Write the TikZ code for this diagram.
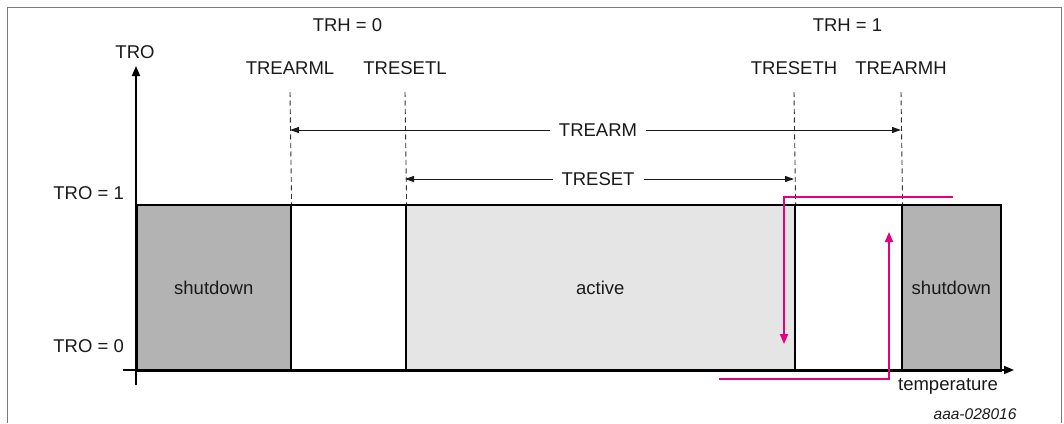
\documentclass[tikz,border=0pt]{standalone}
\usepackage{fontspec}
\setmainfont{Liberation Sans}
\usetikzlibrary{arrows.meta}
\definecolor{txt}{HTML}{1A1A1A}
\definecolor{darkfill}{HTML}{B3B3B3}
\definecolor{lightfill}{HTML}{E5E5E5}
\definecolor{pinkc}{HTML}{E5007D}
\definecolor{framec}{HTML}{7A7A7A}
\begin{document}
\begin{tikzpicture}[x=1pt,y=-1pt,
  font=\fontsize{18.5}{21}\selectfont,
  lbl/.style={text=txt, inner sep=0pt},
  region/.style={draw=black, line width=1.6pt, anchor=north west, inner sep=0pt, minimum height=166pt, text=txt},
  axisline/.style={draw=black, line width=1.6pt, -{Triangle[length=10pt,width=8pt]}},
  dashline/.style={draw=txt!90, line width=0.9pt, dash pattern=on 5pt off 3.5pt},
  dimline/.style={draw=txt, line width=0.9pt, {Triangle[length=9pt,width=6pt]}-{Triangle[length=9pt,width=6pt]}},
  dimlabel/.style={fill=white, text=txt, inner xsep=9pt, inner ysep=1pt},
  pinkline/.style={draw=pinkc, line width=1.8pt, -{Triangle[length=10pt,width=8pt]}}
]
\useasboundingbox (0,0) rectangle (1064,423);
% frame
\coordinate (f1) at (7,423); \coordinate (f2) at (7,7);
\coordinate (f3) at (1061,7); \coordinate (f4) at (1061,423);
\draw[framec, line width=1pt] (f1) -- (f2) -- (f3) -- (f4);

% regions
\node[region, fill=darkfill, minimum width=154pt] (sd1) at (136,204) {shutdown};
\node[region, fill=white, minimum width=115pt] (w1) at (290,204) {};
\node[region, fill=lightfill, minimum width=389pt] (act) at (405,204) {active};
\node[region, fill=white, minimum width=107pt] (w2) at (794,204) {};
\node[region, fill=darkfill, minimum width=99pt] (sd2) at (901,204) {shutdown};

% axes
\coordinate (ybot) at (136,385); \coordinate (ytop) at (136,66);
\coordinate (xleft) at (123,370); \coordinate (xright) at (1014,370);
\draw[axisline] (ybot) -- (ytop);
\draw[axisline] (xleft) -- (xright);

% dashed threshold lines
\coordinate (d1t) at (290,92); \coordinate (d2t) at (405,92);
\coordinate (d3t) at (794,92); \coordinate (d4t) at (901,92);
\draw[dashline] (d1t) -- (sd1.north east);
\draw[dashline] (d2t) -- (w1.north east);
\draw[dashline] (d3t) -- (act.north east);
\draw[dashline] (d4t) -- (w2.north east);

% dimension arrows
\coordinate (ra) at (290,130); \coordinate (rb) at (901,130);
\coordinate (sa) at (405,179); \coordinate (sb) at (794,179);
\draw[dimline] (ra) -- (rb);
\draw[dimline] (sa) -- (sb);
\node[dimlabel] (trearm) at (598,130) {TREARM};
\node[dimlabel] (treset) at (598,179) {TRESET};

% labels
\node[lbl] (tro) at (135,52) {TRO};
\node[lbl] (trh0) at (347.5,25) {TRH = 0};
\node[lbl] (trh1) at (847.5,25) {TRH = 1};
\node[lbl] (trearml) at (290,68) {TREARML};
\node[lbl] (tresetl) at (405,68) {TRESETL};
\node[lbl] (treseth) at (794,68) {TRESETH};
\node[lbl] (trearmh) at (901,68) {TREARMH};
\node[lbl, anchor=east] (tro1) at (124,193) {TRO = 1};
\node[lbl, anchor=east] (tro0) at (124,346) {TRO = 0};
\node[lbl] (temp) at (948,386) {temperature};
\node[lbl, font=\fontsize{15.5}{18}\selectfont\itshape] (code) at (975,414) {aaa-028016};

% pink hysteresis paths
\coordinate (p1a) at (953,197); \coordinate (p1b) at (784,197); \coordinate (p1c) at (784,344);
\coordinate (p2a) at (719,379); \coordinate (p2b) at (889,379); \coordinate (p2c) at (889,232);
\draw[pinkline] (p1a) -- (p1b) -- (p1c);
\draw[pinkline] (p2a) -- (p2b) -- (p2c);
\end{tikzpicture}
\end{document}
